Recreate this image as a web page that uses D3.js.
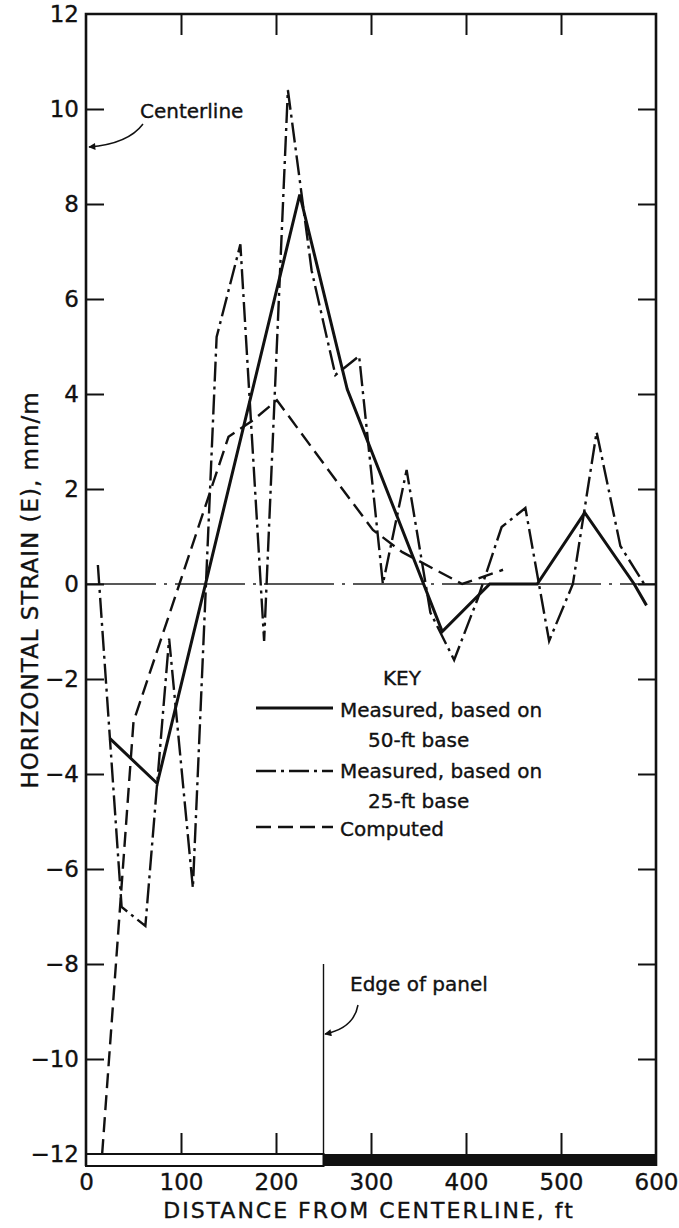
<!DOCTYPE html>
<html>
<head>
<meta charset="utf-8">
<script src="https://cdn.jsdelivr.net/npm/d3@7"></script>
<style>
  body { margin: 0; background: #fff; }
  svg text { font-family: "DejaVu Sans", sans-serif; fill: #111; stroke: #111; stroke-width: 0.35px; }
</style>
</head>
<body>
<div id="chart"></div>
<script>
// horizontal strain vs distance from centerline

var w = 679;
var h = 1228;

// measured, 50-ft base (solid)
var solidX = [25, 75, 225, 275, 375, 425, 475, 525, 577, 590];
var solidY = [-3.25, -4.2, 8.2, 4.1, -1.0, 0, 0, 1.5, 0, -0.45];

// measured, 25-ft base (dash-dot)
var dashdotX = [12.5, 37.5, 62.5, 87.5, 112.5, 137.5, 162.5, 187.5, 212.5, 237.5, 262.5, 287.5,
                312.5, 337.5, 362.5, 387.5, 412.5, 437.5, 462.5, 487.5, 512.5, 537.5, 562.5, 587.5];
var dashdotY = [0.4, -6.8, -7.2, -1.15, -6.4, 5.2, 7.15, -1.2, 10.4, 6.6, 4.4, 4.8,
                0, 2.4, -0.6, -1.6, -0.3, 1.2, 1.6, -1.2, 0, 3.2, 0.8, 0];

// computed (dashed)
var computedX = [17, 50, 150, 176, 201, 268, 302, 333, 396, 439];
var computedY = [-12, -2.9, 3.1, 3.45, 3.87, 2.05, 1.14, 0.67, 0, 0.3];

var xTicks = [0, 100, 200, 300, 400, 500, 600];
var yTicks = [-12, -10, -8, -6, -4, -2, 0, 2, 4, 6, 8, 10, 12];
var panelEdge = 250;

var svg = d3.select("#chart")
            .append("svg")
            .attr("width", w)
            .attr("height", h);

var x = d3.scaleLinear().domain([0, 600]).range([86, 656]);
var y = d3.scaleLinear().domain([-12, 12]).range([1154, 14]);

var barBottom = 1166;

function zip(xs, ys) {
  return xs.map(function (d, i) { return [d, ys[i]]; });
}

var line = d3.line()
             .x(function (d) { return x(d[0]); })
             .y(function (d) { return y(d[1]); });

// zero line
svg.append("line")
   .attr("x1", x(0)).attr("x2", x(600))
   .attr("y1", y(0)).attr("y2", y(0))
   .attr("stroke", "#222")
   .attr("stroke-width", 1.3)
   .attr("stroke-dasharray", "70 8 3 8");

// edge of panel
svg.append("line")
   .attr("x1", x(panelEdge)).attr("x2", x(panelEdge))
   .attr("y1", y(-8)).attr("y2", y(-12))
   .attr("stroke", "#111")
   .attr("stroke-width", 1.4);

// panel bar under the plot
svg.append("rect")
   .attr("x", x(0)).attr("y", y(-12))
   .attr("width", x(panelEdge) - x(0))
   .attr("height", barBottom - y(-12))
   .attr("fill", "#fff")
   .attr("stroke", "#111")
   .attr("stroke-width", 2);
svg.append("rect")
   .attr("x", x(panelEdge)).attr("y", y(-12))
   .attr("width", x(600) - x(panelEdge))
   .attr("height", barBottom - y(-12))
   .attr("fill", "#111");

// axes
var gLeft = svg.append("g")
               .attr("transform", "translate(" + x(0) + ",0)")
               .call(d3.axisLeft(y).tickValues(yTicks).tickSize(-18).tickPadding(7));
gLeft.selectAll(".tick line").filter(function (d) { return d === 12 || d === -12; }).remove();

var gRight = svg.append("g")
                .attr("transform", "translate(" + x(600) + ",0)")
                .call(d3.axisRight(y).tickValues(yTicks.slice(1, -1)).tickSize(-18).tickFormat(""));

var gTop = svg.append("g")
              .attr("transform", "translate(0," + y(12) + ")")
              .call(d3.axisTop(x).tickValues(xTicks.slice(1, -1)).tickSize(-21).tickFormat(""));

var gBottom = svg.append("g")
                 .attr("transform", "translate(0," + y(-12) + ")")
                 .call(d3.axisBottom(x).tickValues(xTicks).tickSize(-21).tickPadding(20));
gBottom.selectAll(".tick line").filter(function (d) { return d === 0 || d === 600; }).remove();

[gLeft, gRight, gTop, gBottom].forEach(function (g) {
  g.select(".domain").remove();
  g.selectAll(".tick line").attr("stroke", "#111").attr("stroke-width", 2);
  g.selectAll(".tick text")
   .attr("font-family", "DejaVu Sans, sans-serif")
   .attr("font-size", 23)
   .attr("fill", "#111");
});

// frame
svg.append("path")
   .attr("d", "M" + x(0) + "," + barBottom + "V" + y(12) + "H" + x(600) + "V" + barBottom)
   .attr("fill", "none")
   .attr("stroke", "#111")
   .attr("stroke-width", 2.6);

// series
svg.append("path")
   .datum(zip(computedX, computedY))
   .attr("d", line)
   .attr("fill", "none")
   .attr("stroke", "#111")
   .attr("stroke-width", 2.4)
   .attr("stroke-dasharray", "15 7");

svg.append("path")
   .datum(zip(dashdotX, dashdotY))
   .attr("d", line)
   .attr("fill", "none")
   .attr("stroke", "#111")
   .attr("stroke-width", 2.4)
   .attr("stroke-dasharray", "20 5 3 5");

svg.append("path")
   .datum(zip(solidX, solidY))
   .attr("d", line)
   .attr("fill", "none")
   .attr("stroke", "#111")
   .attr("stroke-width", 3);

// axis titles
svg.append("text")
   .attr("transform", "translate(38,590) rotate(-90)")
   .attr("text-anchor", "middle")
   .attr("font-size", 23)
   .attr("letter-spacing", 1)
   .text("HORIZONTAL STRAIN (E), mm/m");

svg.append("text")
   .attr("x", 369)
   .attr("y", 1218)
   .attr("text-anchor", "middle")
   .attr("font-size", 22)
   .attr("letter-spacing", 2)
   .text("DISTANCE FROM CENTERLINE, ft");

// arrow marker
svg.append("defs")
   .append("marker")
   .attr("id", "arrow")
   .attr("viewBox", "0 0 10 10")
   .attr("refX", 9).attr("refY", 5)
   .attr("markerWidth", 10).attr("markerHeight", 7)
   .attr("markerUnits", "userSpaceOnUse")
   .attr("orient", "auto")
   .append("path")
   .attr("d", "M0,0L10,5L0,10z")
   .attr("fill", "#111");

// centerline note
svg.append("text")
   .attr("x", 140).attr("y", 118)
   .attr("font-size", 20)
   .text("Centerline");
svg.append("path")
   .attr("d", "M143,124 Q128,144 89,147")
   .attr("fill", "none")
   .attr("stroke", "#111")
   .attr("stroke-width", 1.5)
   .attr("marker-end", "url(#arrow)");

// edge of panel note
svg.append("text")
   .attr("x", 350).attr("y", 991)
   .attr("font-size", 20)
   .text("Edge of panel");
svg.append("path")
   .attr("d", "M358,1005 Q354,1028 325,1034")
   .attr("fill", "none")
   .attr("stroke", "#111")
   .attr("stroke-width", 1.5)
   .attr("marker-end", "url(#arrow)");

// key
var key = svg.append("g");
key.append("text").attr("x", 383).attr("y", 685).attr("font-size", 20).text("KEY");

var keyRows = [
  {y: 708, dash: null, width: 3, lines: [["Measured, based on", 340, 717], ["50-ft base", 368, 747]]},
  {y: 771, dash: "20 5 3 5", width: 2.4, lines: [["Measured, based on", 340, 778], ["25-ft base", 368, 808]]},
  {y: 827, dash: "15 7", width: 2.4, lines: [["Computed", 340, 836]]}
];

keyRows.forEach(function (r) {
  key.append("line")
     .attr("x1", 256).attr("x2", 333)
     .attr("y1", r.y).attr("y2", r.y)
     .attr("stroke", "#111")
     .attr("stroke-width", r.width)
     .attr("stroke-dasharray", r.dash);
  r.lines.forEach(function (t) {
    key.append("text").attr("x", t[1]).attr("y", t[2]).attr("font-size", 20).text(t[0]);
  });
});
</script>
</body>
</html>
